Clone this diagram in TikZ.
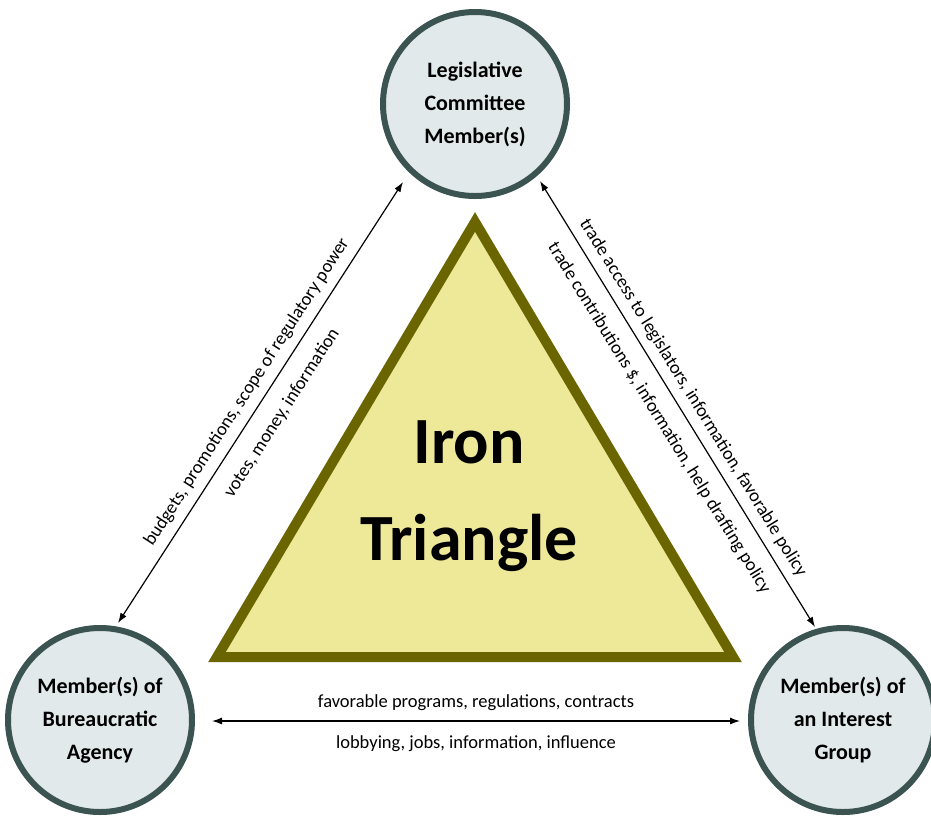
\documentclass[tikz,border=0pt]{standalone}
\usepackage{fontspec}
\setmainfont{Carlito}
\usetikzlibrary{arrows.meta}
\definecolor{circfill}{HTML}{E1E9EA}
\definecolor{circline}{HTML}{3B5351}
\definecolor{trifill}{HTML}{EDE999}
\definecolor{triline}{HTML}{6B6500}
\begin{document}
\begin{tikzpicture}[x=1pt,y=-1pt,
  actor/.style={circle,draw=circline,fill=circfill,line width=6pt,minimum size=184pt,inner sep=0pt,align=center,font=\fontsize{22}{33}\selectfont\bfseries},
  link/.style={{Latex[length=10pt,width=7pt]}-{Latex[length=10pt,width=7pt]},line width=1.2pt},
  lbl/.style={font=\fontsize{18.5}{20}\selectfont,inner sep=0pt},
  big/.style={font=\fontsize{66}{70}\selectfont\bfseries,inner sep=0pt,anchor=base}]
\useasboundingbox (0,0) rectangle (931,815);
\fill[white] (0,0) rectangle (931,815);
% triangle
\draw[draw=triline,fill=trifill,line width=10pt,line join=miter] (475,222) -- (733,657) -- (217,657) -- cycle;
\node[big] (iron) at (469,463) {Iron};
\node[big] (tri) at (469,560) {Triangle};
% actors
\node[actor] (leg) at (475,104) {Legislative\\Committee\\Member(s)};
\node[actor] (bur) at (100,720) {Member(s) of\\Bureaucratic\\Agency};
\node[actor] (grp) at (843,720) {Member(s) of\\an Interest\\Group};
% connector ends
\coordinate (legL) at (403,182);
\coordinate (burT) at (118,623);
\coordinate (legR) at (540,181);
\coordinate (grpT) at (815,627);
\coordinate (burR) at (212,721);
\coordinate (grpL) at (740,721);
\draw[link] (legL) -- (burT);
\draw[link] (legR) -- (grpT);
\draw[link] (burR) -- (grpL);
% labels
\node[lbl,rotate=57.1] (l1) at (247,392) {budgets, promotions, scope of regulatory power};
\node[lbl,rotate=57.1] (l2) at (282,413) {votes, money, information};
\node[lbl,rotate=-58.3] (r1) at (693,398) {trade access to legislators, information, favorable policy};
\node[lbl,rotate=-58.3] (r2) at (659,418) {trade contributions \$, information, help drafting policy};
\node[lbl] (b1) at (476,703) {favorable programs, regulations, contracts};
\node[lbl] (b2) at (476,744) {lobbying, jobs, information, influence};
\end{tikzpicture}
\end{document}
